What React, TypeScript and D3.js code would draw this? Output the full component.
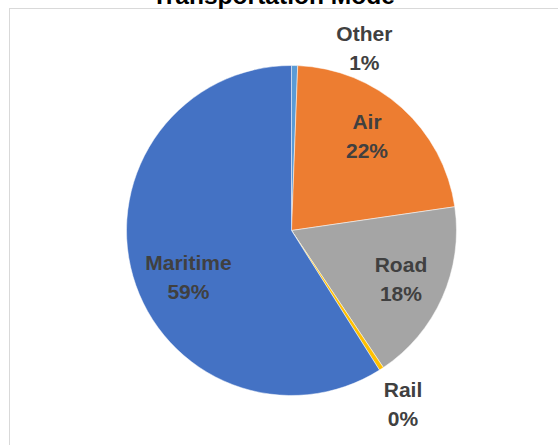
import React from "react";
import * as d3 from "d3";

const categories = ["Other", "Air", "Road", "Rail", "Maritime"];
const shares = [0.6, 22.1, 17.9, 0.45, 58.95];
const colors = ["#5B9BD5", "#ED7D31", "#A5A5A5", "#FFC000", "#4472C4"];
const title = "Transportation Mode";

// label layout: angle shift (deg) from slice middle and radius factor
const labelLayout: Record<string, { dAngle: number; rf: number }> = {
  Other: { dAngle: 20.7, rf: 1.19 },
  Air: { dAngle: -3.1, rf: 0.73 },
  Road: { dAngle: 0.2, rf: 0.727 },
  Rail: { dAngle: 0.3, rf: 1.25 },
  Maritime: { dAngle: -8.5, rf: 0.687 },
};

const W = 558;
const H = 445;
const cx = 291.5;
const cy = 230.5;
const R = 165;

export default function App() {
  const data = categories.map((c, i) => ({ name: c, value: shares[i], color: colors[i] }));
  const pie = d3
    .pie<{ name: string; value: number; color: string }>()
    .sort(null)
    .value((d) => d.value)
    .startAngle(0)
    .endAngle(2 * Math.PI);
  const arcs = pie(data);
  const arc = d3.arc<d3.PieArcDatum<any>>().innerRadius(0).outerRadius(R);
  const total = d3.sum(shares);
  const font = "'Liberation Sans', Arial, sans-serif";

  return (
    <svg
      width={W}
      height={H}
      style={{ position: "absolute", left: 0, top: 0, background: "#fff" }}
    >
      <rect x={9.5} y={8.5} width={W} height={H} fill="#fff" stroke="#D9D9D9" strokeWidth={1} />
      <text
        x={273.5}
        y={4}
        textAnchor="middle"
        fontFamily={font}
        fontWeight="bold"
        fontSize={24}
        textLength={243}
        lengthAdjust="spacingAndGlyphs"
        fill="#000"
      >
        {title}
      </text>
      <g transform={`translate(${cx},${cy})`}>
        {arcs.map((a) => (
          <path key={a.data.name} d={arc(a) || ""} fill={a.data.color} stroke="#fff" strokeWidth={0.5} />
        ))}
        {arcs.map((a) => {
          const lay = labelLayout[a.data.name];
          const mid = (a.startAngle + a.endAngle) / 2 + (lay.dAngle * Math.PI) / 180;
          const r = R * lay.rf;
          const x = r * Math.sin(mid);
          const y = -r * Math.cos(mid);
          const pct = Math.round((a.data.value / total) * 100) + "%";
          return (
            <text
              key={"l" + a.data.name}
              x={x}
              y={y}
              textAnchor="middle"
              fontFamily={font}
              fontWeight="bold"
              fontSize={21}
              fill="#404040"
            >
              <tspan x={x} dy={-7.5}>{a.data.name}</tspan>
              <tspan x={x} dy={29}>{pct}</tspan>
            </text>
          );
        })}
      </g>
    </svg>
  );
}
